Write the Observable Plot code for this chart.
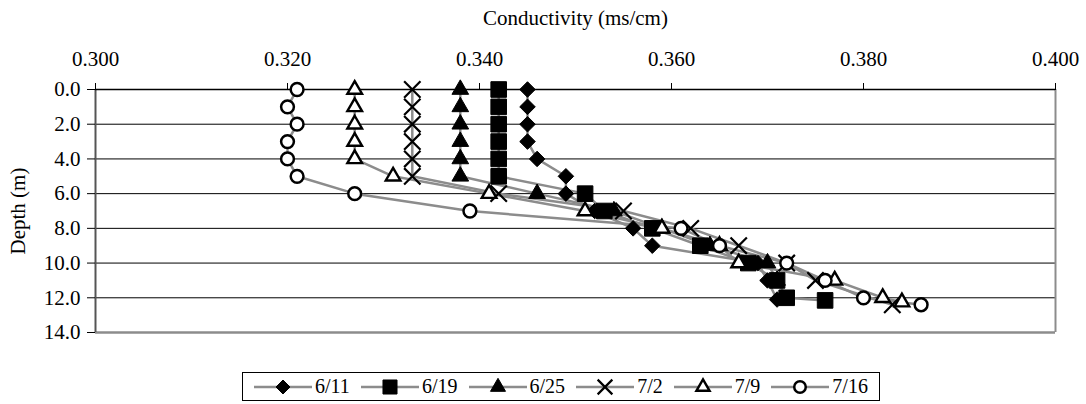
<!DOCTYPE html>
<html>
<head>
<meta charset="utf-8">
<script src="https://cdn.jsdelivr.net/npm/d3@7"></script>
<script src="https://cdn.jsdelivr.net/npm/@observablehq/plot@0.6"></script>
<style>
  html, body { margin: 0; padding: 0; background: #fff; }
  #wrap { position: relative; width: 1086px; height: 404px; font-family: 'Liberation Serif', 'DejaVu Serif', serif; }
  #legend { position: absolute; left: 242px; top: 372px; width: 636px; height: 27px; border: 1px solid #000;
            display: flex; justify-content: space-evenly; align-items: center; box-sizing: content-box; }
  .item { display: flex; align-items: center; font-size: 20px; color: #000; font-family: 'Liberation Serif', 'DejaVu Serif', serif; }
  .item svg { margin-right: 3px; }
  #chart svg, #chart svg text { font-family: 'Liberation Serif', 'DejaVu Serif', serif !important; }
</style>
</head>
<body>
<div id="wrap"><div id="chart"></div><div id="legend"></div></div>
<script>
// ---- data ----
const seriesNames = ["6/11", "6/19", "6/25", "7/2", "7/9", "7/16"];

const depth_0611 = [0, 1, 2, 3, 4, 5, 6, 7, 8, 9, 10, 11, 12.1];
const cond_0611  = [0.345, 0.345, 0.345, 0.345, 0.346, 0.349, 0.349, 0.352, 0.356, 0.358, 0.369, 0.370, 0.371];

const depth_0619 = [0, 1, 2, 3, 4, 5, 6, 7, 8, 9, 10, 11, 12, 12.15];
const cond_0619  = [0.342, 0.342, 0.342, 0.342, 0.342, 0.342, 0.351, 0.353, 0.358, 0.363, 0.368, 0.371, 0.372, 0.376];

const depth_0625 = [0, 1, 2, 3, 4, 5, 6, 7, 8, 9, 10, 11];
const cond_0625  = [0.338, 0.338, 0.338, 0.338, 0.338, 0.338, 0.346, 0.354, 0.359, 0.364, 0.370, 0.371];

const depth_0702 = [0, 1, 2, 3, 4, 5, 6, 7, 8, 9, 10, 11, 12.4];
const cond_0702  = [0.333, 0.333, 0.333, 0.333, 0.333, 0.333, 0.342, 0.355, 0.362, 0.367, 0.372, 0.375, 0.383];

const depth_0709 = [0, 1, 2, 3, 4, 5, 6, 7, 8, 9, 10, 11, 12, 12.25];
const cond_0709  = [0.327, 0.327, 0.327, 0.327, 0.327, 0.331, 0.341, 0.351, 0.359, 0.365, 0.367, 0.377, 0.382, 0.384];

const depth_0716 = [0, 1, 2, 3, 4, 5, 6, 7, 8, 9, 10, 11, 12, 12.4];
const cond_0716  = [0.321, 0.320, 0.321, 0.320, 0.320, 0.321, 0.327, 0.339, 0.361, 0.365, 0.372, 0.376, 0.380, 0.386];

const xTicks = [0.30, 0.32, 0.34, 0.36, 0.38, 0.40];
const yTicks = [0, 2, 4, 6, 8, 10, 12, 14];
const xTitle = "Conductivity (ms/cm)";
const yTitle = "Depth (m)";

// ---- build table ----
const depthSets = [depth_0611, depth_0619, depth_0625, depth_0702, depth_0709, depth_0716];
const condSets  = [cond_0611, cond_0619, cond_0625, cond_0702, cond_0709, cond_0716];
const rows = [];
seriesNames.forEach((s, i) => depthSets[i].forEach((d, j) => rows.push({series: s, depth: d, cond: condSets[i][j]})));

const styles = {
  "6/11": {symbol: "diamond2", fill: "#000", stroke: "#000", strokeWidth: 1, r: 7.0},
  "6/19": {symbol: "square", fill: "#000", stroke: "#000", strokeWidth: 1, r: 8.8},
  "6/25": {symbol: "triangle", fill: "#000", stroke: "#000", strokeWidth: 1, r: 6.2},
  "7/2":  {symbol: "times", fill: "none", stroke: "#000", strokeWidth: 2.2, r: 7.5},
  "7/9":  {symbol: "triangle2", fill: "#fff", stroke: "#000", strokeWidth: 2.4, r: 7.0},
  "7/16": {symbol: "circle", fill: "#fff", stroke: "#000", strokeWidth: 2.5, r: 6.4}
};

const font = "'Liberation Serif', 'DejaVu Serif', serif";
const H = 345;

const plot = Plot.plot({
  width: 1086,
  height: H,
  marginTop: 89,
  marginLeft: 95,
  marginRight: 31,
  marginBottom: H - 332,
  style: {fontFamily: font, fontSize: "21px", background: "#fff", color: "#000"},
  x: {domain: [0.3, 0.4]},
  y: {domain: [0, 14], reverse: true},
  marks: [
    Plot.ruleY(yTicks.filter(d => d > 0 && d < 14), {stroke: "#000", strokeWidth: 1}),
    Plot.ruleY([14], {stroke: "#8c8c8c", strokeWidth: 2.5}),
    Plot.ruleX([0.4], {stroke: "#8c8c8c", strokeWidth: 2}),
    Plot.ruleX([0.3], {stroke: "#555", strokeWidth: 2}),
    Plot.ruleY([0], {stroke: "#000", strokeWidth: 1.5}),
    Plot.axisX({anchor: "top", ticks: xTicks, tickFormat: d3.format(".3f"), tickSize: 7, tickPadding: 17, fontSize: 21, label: null}),
    Plot.axisY({anchor: "left", ticks: yTicks, tickFormat: d3.format(".1f"), tickSize: 8, tickPadding: 7, fontSize: 21, label: null}),
    Plot.text([xTitle], {frameAnchor: "top", lineAnchor: "middle", textAnchor: "middle", dy: -71, fontSize: 21, text: d => d}),
    Plot.text([yTitle], {frameAnchor: "left", lineAnchor: "middle", textAnchor: "middle", dx: -77, rotate: -90, fontSize: 21, text: d => d}),
    Plot.line(rows, {x: "cond", y: "depth", z: "series", stroke: "#8c8c8c", strokeWidth: 2.5}),
    ...seriesNames.map(s => Plot.dot(rows.filter(r => r.series === s), {
      x: "cond", y: "depth", ...styles[s]
    }))
  ]
});
document.getElementById("chart").appendChild(plot);

// ---- legend ----
const legend = d3.select("#legend");
const symMap = {diamond2: d3.symbolDiamond2, square: d3.symbolSquare, triangle: d3.symbolTriangle,
                times: d3.symbolTimes, triangle2: d3.symbolTriangle2};
seriesNames.forEach(s => {
  const st = styles[s];
  const item = legend.append("div").attr("class", "item");
  const svg = item.append("svg").attr("width", 58).attr("height", 22);
  svg.append("line").attr("x1", 0).attr("x2", 58).attr("y1", 11).attr("y2", 11)
     .attr("stroke", "#8c8c8c").attr("stroke-width", 2.5);
  const rr = st.r * 0.9;
  if (st.symbol === "circle") {
    svg.append("circle").attr("cx", 29).attr("cy", 11).attr("r", rr)
       .attr("fill", st.fill).attr("stroke", st.stroke).attr("stroke-width", st.strokeWidth);
  } else {
    svg.append("path").attr("transform", "translate(29,11)")
       .attr("d", d3.symbol(symMap[st.symbol], rr * rr * Math.PI)())
       .attr("fill", st.fill).attr("stroke", st.stroke).attr("stroke-width", st.strokeWidth);
  }
  item.append("span").text(s);
});
</script>
</body>
</html>
